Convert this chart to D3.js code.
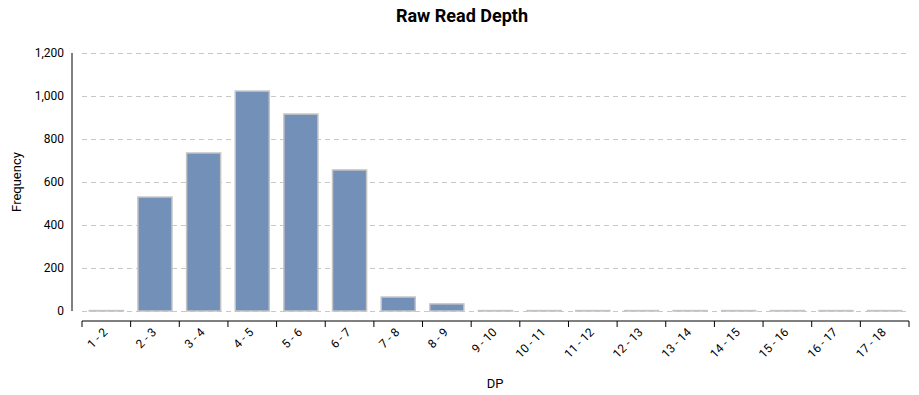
<!DOCTYPE html>
<html>
<head>
<meta charset="utf-8">
<script src="https://cdn.jsdelivr.net/npm/d3@7"></script>
<style>
  body { margin: 0; background: #fff; }
  text { font-family: Roboto, "Noto Sans", sans-serif; }
  .grid line { stroke: #c8c8c8; stroke-dasharray: 5,4; }
  .grid .domain { display: none; }
</style>
</head>
<body>
<script>
(function(){

//categories and values
var bins = ["1 - 2", "2 - 3", "3 - 4", "4 - 5", "5 - 6", "6 - 7", "7 - 8", "8 - 9", "9 - 10",
            "10 - 11", "11 - 12", "12 - 13", "13 - 14", "14 - 15", "15 - 16", "16 - 17", "17 - 18"];
var counts = [2, 530, 735, 1023, 916, 656, 65, 33, 2, 2, 2, 2, 2, 2, 2, 2, 2];
var yTicks = [0, 200, 400, 600, 800, 1000, 1200];

var width = 919,
    height = 395,
    left = 82, right = 909,
    top = 53, bottom = 311,
    axisY = 321,
    yAxisX = 72;

var svg = d3.select("body")
    .append("svg")
    .attr("width", width)
    .attr("height", height);

var x = d3.scaleBand()
    .domain(bins)
    .range([left, right])
    .paddingInner(0.3)
    .paddingOuter(0.15);

var y = d3.scaleLinear()
    .domain([0, 1200])
    .range([bottom, top]);

//gridlines
svg.append("g")
    .attr("class", "grid")
    .attr("transform", "translate(" + left + ",0)")
    .call(d3.axisLeft(y).tickValues(yTicks).tickSize(-(right - left)).tickFormat(""));

//y axis line + labels
svg.append("line")
    .attr("x1", yAxisX).attr("x2", yAxisX)
    .attr("y1", top).attr("y2", bottom)
    .attr("stroke", "#000");

svg.selectAll(".ylab")
    .data(yTicks)
    .enter()
    .append("text")
    .attr("class", "ylab")
    .attr("x", yAxisX - 8)
    .attr("y", function(d){ return y(d); })
    .attr("dy", "0.35em")
    .attr("text-anchor", "end")
    .style("font-size", "12px")
    .text(d3.format(","));

//bars
svg.selectAll(".bar")
    .data(counts)
    .enter()
    .append("rect")
    .attr("class", "bar")
    .attr("x", function(d, i){ return x(bins[i]); })
    .attr("width", x.bandwidth())
    .attr("y", function(d){ return y(d); })
    .attr("height", function(d){ return bottom - y(d); })
    .attr("fill", "#7390b8")
    .attr("stroke", "#c4c4c4")
    .attr("stroke-width", 1.5);

//x axis with ticks at band boundaries
svg.append("line")
    .attr("x1", left).attr("x2", right)
    .attr("y1", axisY).attr("y2", axisY)
    .attr("stroke", "#000");

var bounds = d3.range(bins.length + 1).map(function(i){
    return left + i * x.step();
});

svg.selectAll(".xtick")
    .data(bounds)
    .enter()
    .append("line")
    .attr("class", "xtick")
    .attr("x1", function(d){ return d; })
    .attr("x2", function(d){ return d; })
    .attr("y1", axisY)
    .attr("y2", axisY + 6)
    .attr("stroke", "#000");

svg.selectAll(".xlab")
    .data(bins)
    .enter()
    .append("text")
    .attr("class", "xlab")
    .attr("text-anchor", "end")
    .attr("transform", function(d){
        return "translate(" + (x(d) + x.bandwidth() / 2 + 2) + "," + (axisY + 12) + ") rotate(-45)";
    })
    .style("font-size", "12px")
    .text(function(d){ return d; });

//titles
svg.append("text")
    .attr("x", 462)
    .attr("y", 22)
    .attr("text-anchor", "middle")
    .style("font-size", "18px")
    .style("font-weight", "bold")
    .text("Raw Read Depth");

svg.append("text")
    .attr("x", 495)
    .attr("y", 388)
    .attr("text-anchor", "middle")
    .style("font-size", "13px")
    .text("DP");

svg.append("text")
    .attr("transform", "translate(21,182) rotate(-90)")
    .attr("text-anchor", "middle")
    .style("font-size", "13px")
    .text("Frequency");

})();
</script>
</body>
</html>
